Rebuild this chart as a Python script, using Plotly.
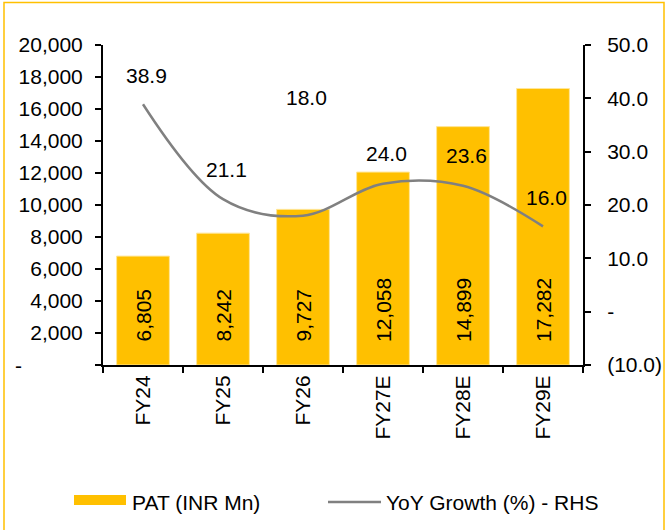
import plotly.graph_objects as go

categories = ["FY24", "FY25", "FY26", "FY27E", "FY28E", "FY29E"]
pat_values = [6805, 8242, 9727, 12058, 14899, 17282]
yoy_growth = [38.9, 21.1, 18.0, 24.0, 23.6, 16.0]
left_tickvals = [0, 2000, 4000, 6000, 8000, 10000, 12000, 14000, 16000, 18000, 20000]
left_ticktext = ["", "2,000", "4,000", "6,000", "8,000", "10,000", "12,000",
                 "14,000", "16,000", "18,000", "20,000"]
right_tickvals = [-10, 0, 10, 20, 30, 40, 50]
right_ticktext = ["(10.0)", "-", "10.0", "20.0", "30.0", "40.0", "50.0"]
bar_name = "PAT (INR Mn)"
line_name = "YoY Growth (%) - RHS"

W, H = 667, 530
L, R, T, B = 103, 84, 45, 165
PW, PH = W - L - R, H - T - B

FONT = "Liberation Sans, Arial, sans-serif"
FS = 21
BAR_COLOR = "#FFC000"
LINE_COLOR = "#808080"

def px_x(px):
    return (px - L) / PW

def px_y(py):
    return (H - B - py) / PH

fig = go.Figure()
fig.add_trace(go.Bar(
    x=categories, y=pat_values, name=bar_name,
    marker=dict(color=BAR_COLOR, line=dict(color="#FFE699", width=1)),
    showlegend=False, hoverinfo="skip",
))
fig.add_trace(go.Scatter(
    x=categories, y=yoy_growth, name=line_name, yaxis="y2",
    mode="lines", line=dict(color=LINE_COLOR, width=2.5, shape="spline", smoothing=1.0),
    showlegend=False, hoverinfo="skip",
))

annotations = []
for c, v in zip(categories, pat_values):
    annotations.append(dict(
        x=c, y=0, xref="x", yref="y", text=f"{v:,}", textangle=-90,
        showarrow=False, xanchor="center", yanchor="bottom", yshift=21,
        font=dict(family=FONT, size=FS, color="#000000"),
    ))
label_shifts = [29, 30, 118, 30, 30, 29]
for c, v, s in zip(categories, yoy_growth, label_shifts):
    annotations.append(dict(
        x=c, y=v, xref="x", yref="y2", text=f"{v:.1f}",
        showarrow=False, xanchor="center", yanchor="middle", yshift=s, xshift=3,
        font=dict(family=FONT, size=FS, color="#000000"),
    ))
# accounting-style dash for zero on left axis
annotations.append(dict(
    x=px_x(13), y=0, xref="paper", yref="y", text="-",
    showarrow=False, xanchor="left", yanchor="middle",
    font=dict(family=FONT, size=FS, color="#000000"),
))
annotations.append(dict(
    x=px_x(130), y=px_y(502), xref="paper", yref="paper", text=bar_name,
    showarrow=False, xanchor="left", yanchor="middle",
    font=dict(family=FONT, size=FS, color="#000000"),
))
annotations.append(dict(
    x=px_x(384), y=px_y(502), xref="paper", yref="paper", text=line_name,
    showarrow=False, xanchor="left", yanchor="middle",
    font=dict(family=FONT, size=FS, color="#000000"),
))

shapes = [
    dict(type="rect", xref="paper", yref="paper",
         x0=px_x(74), x1=px_x(126), y0=px_y(505), y1=px_y(495),
         fillcolor=BAR_COLOR, line=dict(width=0)),
    dict(type="line", xref="paper", yref="paper",
         x0=px_x(328), x1=px_x(381), y0=px_y(502), y1=px_y(502),
         line=dict(color=LINE_COLOR, width=2.5)),
    dict(type="rect", xref="paper", yref="paper",
         x0=px_x(4), x1=px_x(664), y0=px_y(540), y1=px_y(2.5),
         fillcolor="rgba(0,0,0,0)", line=dict(color=BAR_COLOR, width=1.5),
         layer="below"),
]

axis_common = dict(
    showline=True, linecolor="#000000", linewidth=2,
    ticks="outside", ticklen=6, tickwidth=1.5, tickcolor="#000000",
    showgrid=False, zeroline=False,
    tickfont=dict(family=FONT, size=FS, color="#000000"),
)

fig.update_layout(
    width=W, height=H,
    margin=dict(l=L, r=R, t=T, b=B, autoexpand=False),
    paper_bgcolor="white", plot_bgcolor="white",
    font=dict(family=FONT, size=FS, color="#000000"),
    bargap=0.34,
    showlegend=False,
    xaxis=dict(type="category", tickangle=-90, tickson="boundaries", **axis_common),
    yaxis=dict(range=[0, 20000], tickvals=left_tickvals, ticktext=left_ticktext,
               ticklabelstandoff=8, **axis_common),
    yaxis2=dict(range=[-10, 50], tickvals=right_tickvals, ticktext=right_ticktext,
                overlaying="y", side="right", anchor="x",
                ticklabelstandoff=12, **axis_common),
    annotations=annotations,
    shapes=shapes,
)

fig.write_html("out.html", config={"displayModeBar": False},
               post_script="document.body.style.margin='0';document.body.style.overflow='hidden';")
